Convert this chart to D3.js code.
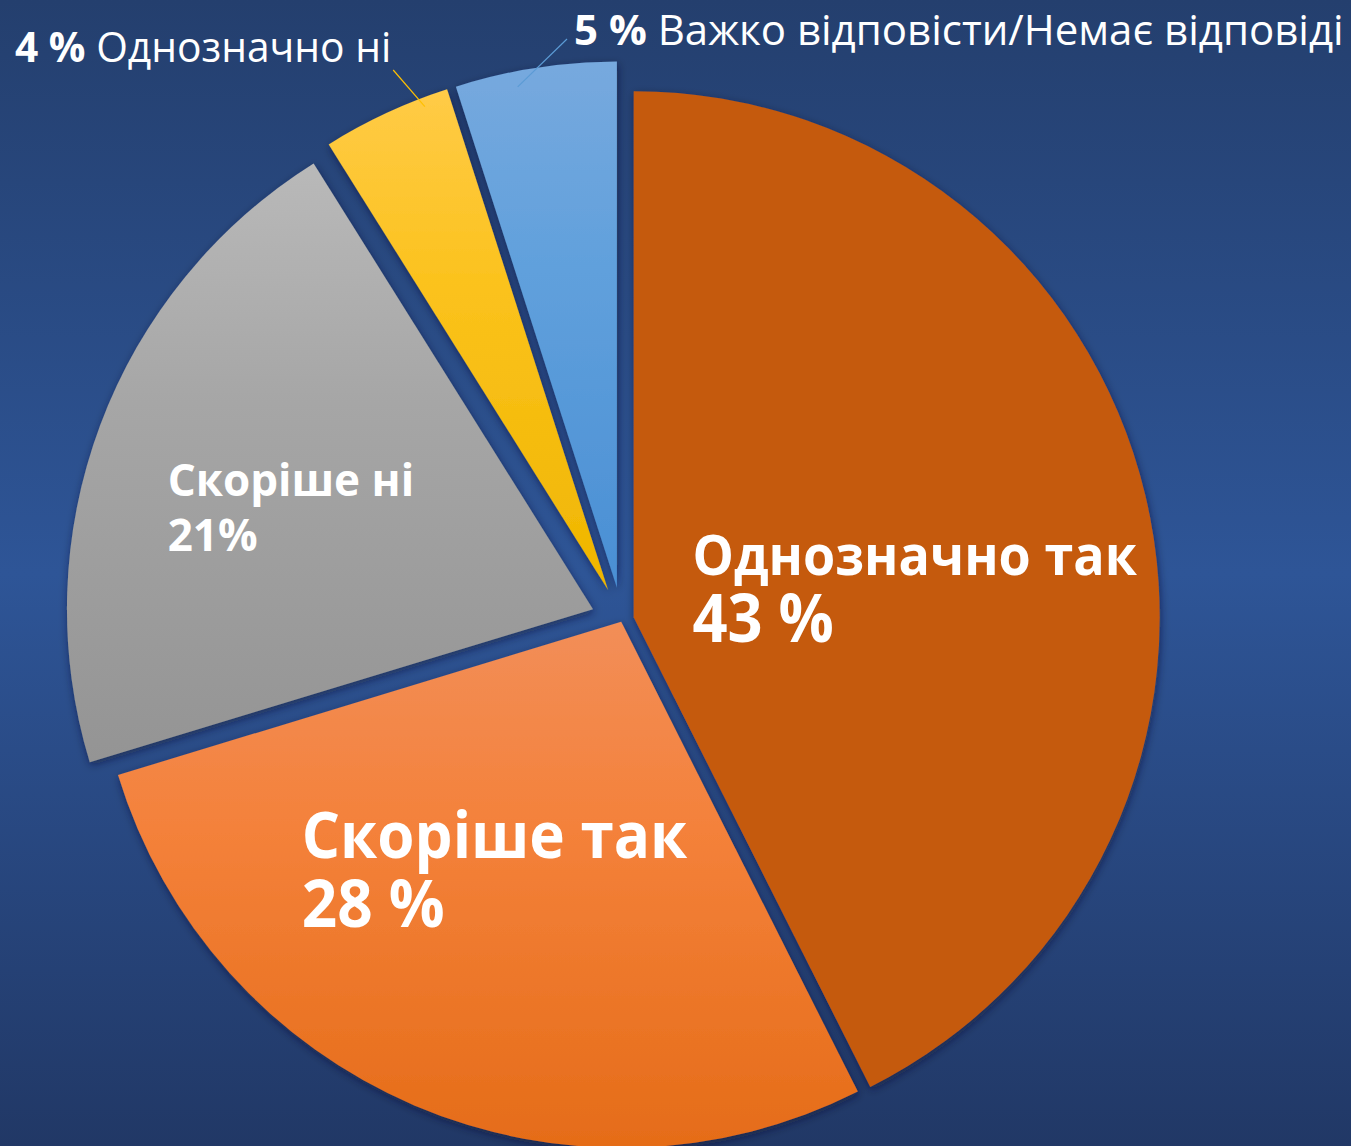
<!DOCTYPE html>
<html>
<head>
<meta charset="utf-8">
<title>Pie chart</title>
<script src="https://cdn.jsdelivr.net/npm/d3@7/dist/d3.min.js"></script>
<style>
  body { margin: 0; background: #26457a; }
  svg { display: block; font-family: 'Open Sans', sans-serif; }
</style>
</head>
<body>
<svg id="chart" width="1351" height="1146"></svg>
<script>
// data
const categories = ['Однозначно так', 'Скоріше так', 'Скоріше ні', 'Однозначно ні', 'Важко відповісти/Немає відповіді'];
const values = [43, 28, 21, 4, 5];
const valueLabels = ['43 %', '28 %', '21%', '4 %', '5 %'];

// look: top, middle, bottom colour of each slice
const sliceColors = [
  ['#c55a11', '#c55a11', '#c55a11'],
  ['#f28e58', '#f4813a', '#e56c18'],
  ['#b9b9b9', '#a6a6a6', '#949494'],
  ['#ffcb47', '#fbc21c', '#efb600'],
  ['#77a9de', '#60a0dc', '#4a8fd4']
];
const leaderColors = [null, null, null, '#ffc000', '#5b9bd5'];
const explode = [12, 2, 31, 33, 33];

var svg = d3.select('#chart'),
  width = +svg.attr('width'),
  height = +svg.attr('height');

var cx = 622, cy = 620, R = 526;

var defs = svg.append('defs');

var bg = defs.append('linearGradient').attr('id', 'bg')
  .attr('x1', 0).attr('y1', 0).attr('x2', 0).attr('y2', 1);
bg.append('stop').attr('offset', 0).attr('stop-color', '#243f6e');
bg.append('stop').attr('offset', 0.5).attr('stop-color', '#2e5597');
bg.append('stop').attr('offset', 1).attr('stop-color', '#213866');

sliceColors.forEach((c, i) => {
  var g = defs.append('linearGradient').attr('id', 'slice' + i)
    .attr('x1', 0).attr('y1', 0).attr('x2', 0).attr('y2', 1);
  g.append('stop').attr('offset', 0).attr('stop-color', c[0]);
  g.append('stop').attr('offset', 0.4).attr('stop-color', c[1]);
  g.append('stop').attr('offset', 1).attr('stop-color', c[2]);
});

var shadow = defs.append('filter').attr('id', 'shadow')
  .attr('x', '-10%').attr('y', '-10%').attr('width', '120%').attr('height', '120%');
shadow.append('feDropShadow')
  .attr('dx', 1).attr('dy', 3).attr('stdDeviation', 4)
  .attr('flood-color', '#0b1633').attr('flood-opacity', 0.55);

svg.append('rect')
  .attr('width', width).attr('height', height)
  .attr('fill', 'url(#bg)');

var pie = d3.pie().sort(null).value(d => d);
var arcs = pie(values);

var arc = d3.arc().innerRadius(0).outerRadius(R);

function mid(d) { return (d.startAngle + d.endAngle) / 2; }
function polar(a, r) { return [Math.sin(a) * r, -Math.cos(a) * r]; }
function apex(d, i) {
  var o = polar(mid(d), explode[i]);
  return [cx + o[0], cy + o[1]];
}

svg.append('g')
  .selectAll('path')
  .data(arcs)
  .enter()
  .append('path')
  .attr('transform', (d, i) => 'translate(' + apex(d, i) + ')')
  .attr('d', arc)
  .attr('fill', (d, i) => 'url(#slice' + i + ')')
  .attr('filter', 'url(#shadow)');

// labels inside the big slices (Calibri-like narrowing with squeeze)
var inside = [
  { i: 0, r: 0.537, da: 7.6, sizes: [56, 66], gap: 67, squeeze: 0.93 },
  { i: 1, r: 0.529, da: 3.9, sizes: [64, 66], gap: 69, squeeze: 0.94 },
  { i: 2, r: 0.606, da: -1.9, sizes: [44, 44], gap: 55, squeeze: 1 }
];

inside.forEach(L => {
  var d = arcs[L.i], p = apex(d, L.i);
  var o = polar(mid(d) + L.da * Math.PI / 180, L.r * R);
  var g = svg.append('g');
  var txt = g.append('text')
    .attr('fill', '#fff')
    .attr('font-weight', 700);
  var lines = [categories[L.i], valueLabels[L.i]];
  var w = 0;
  lines.forEach((t, k) => {
    var ts = txt.append('tspan')
      .attr('x', 0)
      .attr('y', k * L.gap)
      .attr('font-size', L.sizes[k])
      .text(t);
    w = Math.max(w, ts.node().getComputedTextLength());
  });
  w *= L.squeeze;
  var centerY = (L.gap - 0.714 * L.sizes[0]) / 2;
  g.attr('transform', 'translate(' + (p[0] + o[0] - w / 2) + ',' + (p[1] + o[1] - centerY) + ')');
  txt.attr('transform', 'scale(' + L.squeeze + ',1)');
});

// labels outside for the small slices
var outside = [
  { i: 3, x: 15, y: 62, size: 42, squeeze: 0.97, leadFrom: 'end', lx: 2, ly: 8, r: 0.983, da: 4.2 },
  { i: 4, x: 574, y: 45, size: 42, squeeze: 1, leadFrom: 'start', lx: -7, ly: -6, r: 0.97, da: -2.3 }
];

outside.forEach(L => {
  var d = arcs[L.i], p = apex(d, L.i);
  var txt = svg.append('text')
    .attr('transform', 'translate(' + L.x + ',' + L.y + ') scale(' + L.squeeze + ',1)')
    .attr('fill', '#fff')
    .attr('font-size', L.size);
  txt.append('tspan').attr('font-weight', 700).text(valueLabels[L.i]);
  txt.append('tspan').text(' ' + categories[L.i]);
  var w = txt.node().getComputedTextLength() * L.squeeze;
  var sx = (L.leadFrom === 'end' ? L.x + w : L.x) + L.lx,
    sy = L.y + L.ly;
  var e = polar(mid(d) + L.da * Math.PI / 180, L.r * R);
  svg.append('line')
    .attr('x1', sx).attr('y1', sy)
    .attr('x2', p[0] + e[0]).attr('y2', p[1] + e[1])
    .attr('stroke', leaderColors[L.i])
    .attr('stroke-width', 1.2);
});
</script>
</body>
</html>
